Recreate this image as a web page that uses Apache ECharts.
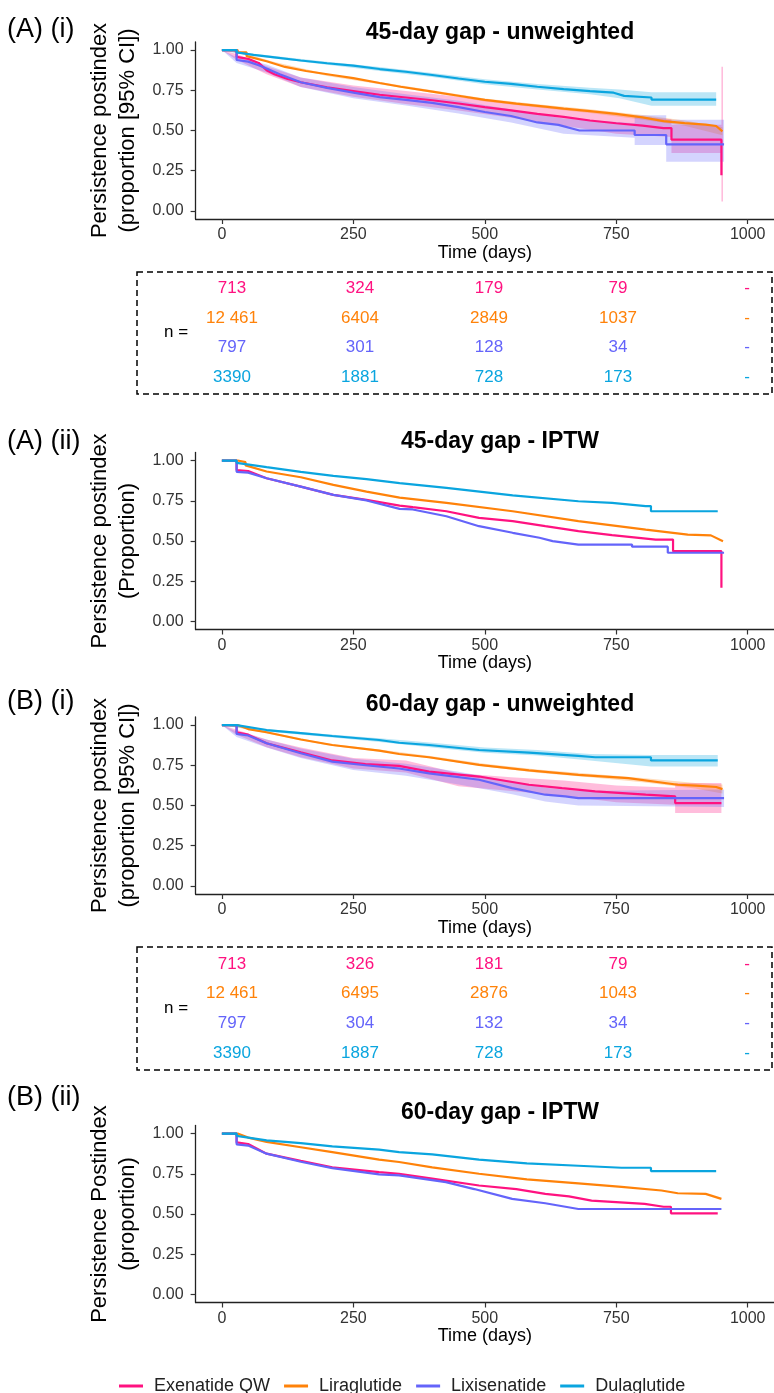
<!DOCTYPE html>
<html><head><meta charset="utf-8">
<script src="https://cdn.jsdelivr.net/npm/echarts@6/dist/echarts.min.js"></script>
<style>html,body{margin:0;padding:0;background:#fff}#c{width:774px;height:1393px}</style>
</head><body><div id="c"></div><script>
const SERIES_NAMES = ['Exenatide QW', 'Liraglutide', 'Lixisenatide', 'Dulaglutide'];
const COLORS = ['#FF1280', '#FF8209', '#6464FA', '#0AA5DF'];
const BAND_COLORS = ['rgba(255,18,128,0.28)', 'rgba(255,130,9,0.28)', 'rgba(100,100,250,0.28)', 'rgba(10,165,223,0.28)'];
const X_TICKS = [0, 250, 500, 750, 1000];
const Y_TICKS = [0, 0.25, 0.5, 0.75, 1];
const PANEL_TITLES = ['45-day gap - unweighted', '45-day gap - IPTW', '60-day gap - unweighted', '60-day gap - IPTW'];
const PANEL_LABELS = ['(A) (i)', '(A) (ii)', '(B) (i)', '(B) (ii)'];
const Y_TITLES = ['Persistence postindex\n(proportion [95% CI])', 'Persistence postindex\n(Proportion)', 'Persistence postindex\n(proportion [95% CI])', 'Persistence Postindex\n(proportion)'];
const X_TITLE = 'Time (days)';

// Panel 1: (A)(i) 45-day gap unweighted  [time, survival]
const P1_EX = [[0,1],[22,1],[22,0.992],[28,0.992],[28,0.958],[50,0.945],[70,0.92],[85,0.875],[100,0.85],[125,0.82],[150,0.80],[200,0.768],[250,0.745],[300,0.722],[350,0.705],[400,0.688],[450,0.668],[500,0.645],[550,0.625],[600,0.603],[650,0.585],[700,0.562],[750,0.545],[800,0.53],[840,0.515],[855,0.515],[855,0.443],[950,0.443],[950,0.222]];
const P1_LI = [[0,1],[30,1],[30,0.985],[47,0.985],[47,0.962],[85,0.93],[120,0.895],[160,0.87],[210,0.845],[250,0.825],[300,0.795],[340,0.772],[400,0.742],[450,0.716],[500,0.69],[560,0.667],[615,0.648],[650,0.636],[700,0.62],[750,0.603],[800,0.582],[840,0.558],[880,0.546],[920,0.536],[940,0.528],[952,0.495]];
const P1_LX = [[0,1],[28,1],[28,0.938],[50,0.928],[70,0.905],[85,0.885],[110,0.85],[150,0.80],[200,0.765],[250,0.735],[300,0.707],[350,0.69],[400,0.672],[450,0.645],[500,0.615],[550,0.59],[600,0.55],[640,0.535],[680,0.50],[785,0.50],[785,0.472],[845,0.472],[845,0.414],[955,0.414]];
const P1_DU = [[0,1],[28,1],[28,0.985],[60,0.97],[100,0.955],[150,0.935],[200,0.918],[250,0.903],[300,0.882],[350,0.865],[400,0.845],[450,0.823],[500,0.803],[550,0.79],[600,0.772],[650,0.757],[700,0.745],[745,0.735],[765,0.715],[817,0.705],[817,0.692],[940,0.692]];
// confidence bands [time, lower, upper]
const P1_EX_CI = [[0,1,1],[28,0.94,0.975],[85,0.85,0.9],[150,0.77,0.83],[250,0.71,0.78],[350,0.665,0.745],[450,0.625,0.71],[550,0.58,0.67],[650,0.53,0.64],[750,0.48,0.60],[855,0.46,0.57],[855,0.36,0.535],[950,0.36,0.535],[950,0.058,0.896],[953,0.058,0.896]];
const P1_LI_CI = [[0,1,1],[32,0.98,0.99],[100,0.914,0.926],[200,0.839,0.851],[300,0.788,0.802],[400,0.734,0.75],[500,0.681,0.699],[600,0.643,0.663],[700,0.608,0.632],[800,0.567,0.597],[880,0.53,0.562],[952,0.47,0.52]];
const P1_LX_CI = [[0,1,1],[28,0.92,0.955],[85,0.86,0.91],[150,0.77,0.83],[250,0.70,0.77],[350,0.655,0.725],[450,0.605,0.685],[550,0.55,0.63],[650,0.48,0.575],[785,0.455,0.545],[785,0.41,0.595],[845,0.41,0.595],[845,0.306,0.567],[955,0.306,0.567]];
const P1_DU_CI = [[0,1,1],[28,0.98,0.99],[100,0.947,0.963],[200,0.908,0.928],[300,0.87,0.894],[400,0.832,0.858],[500,0.788,0.818],[600,0.755,0.789],[700,0.725,0.765],[756,0.70,0.755],[817,0.654,0.737],[940,0.654,0.737]];

// Panel 2: (A)(ii) 45-day gap IPTW
const P2_EX = [[0,1],[28,1],[28,0.94],[50,0.935],[85,0.89],[150,0.838],[212,0.787],[275,0.756],[338,0.72],[363,0.71],[427,0.685],[489,0.644],[553,0.623],[615,0.592],[678,0.561],[742,0.536],[825,0.509],[858,0.509],[858,0.437],[950,0.437],[950,0.209]];
const P2_LI = [[0,1],[30,1],[30,0.99],[45,0.99],[45,0.97],[85,0.932],[150,0.896],[212,0.849],[275,0.807],[338,0.77],[427,0.737],[553,0.685],[678,0.623],[806,0.571],[886,0.54],[930,0.535],[953,0.499]];
const P2_LX = [[0,1],[28,1],[28,0.93],[50,0.925],[85,0.89],[150,0.838],[212,0.787],[275,0.752],[338,0.70],[363,0.696],[427,0.654],[489,0.592],[553,0.551],[604,0.52],[629,0.499],[678,0.478],[780,0.478],[780,0.465],[848,0.465],[848,0.427],[955,0.427]];
const P2_DU = [[0,1],[28,1],[28,0.985],[85,0.959],[150,0.93],[212,0.905],[275,0.884],[338,0.86],[427,0.83],[553,0.783],[678,0.747],[742,0.737],[806,0.717],[816,0.717],[816,0.685],[943,0.685]];

// Panel 3: (B)(i) 60-day gap unweighted
const P3_EX = [[0,1],[28,1],[28,0.955],[50,0.94],[85,0.887],[150,0.83],[210,0.78],[273,0.757],[337,0.746],[394,0.711],[489,0.68],[584,0.629],[647,0.608],[710,0.588],[806,0.567],[862,0.557],[862,0.515],[950,0.515]];
const P3_LI = [[0,1],[30,1],[30,0.99],[50,0.975],[85,0.955],[150,0.91],[210,0.876],[299,0.841],[337,0.82],[394,0.80],[489,0.753],[584,0.718],[678,0.69],[773,0.67],[867,0.629],[902,0.623],[940,0.615],[952,0.602]];
const P3_LX = [[0,1],[28,1],[28,0.945],[50,0.935],[85,0.887],[150,0.825],[210,0.773],[273,0.75],[337,0.73],[394,0.70],[489,0.66],[552,0.608],[615,0.567],[653,0.557],[678,0.546],[955,0.546]];
const P3_DU = [[0,1],[28,1],[28,0.99],[85,0.969],[150,0.95],[210,0.932],[299,0.907],[337,0.89],[394,0.876],[489,0.845],[584,0.829],[678,0.808],[710,0.80],[816,0.80],[816,0.78],[943,0.78]];
const P3_EX_CI = [[0,1,1],[28,0.94,0.97],[85,0.862,0.91],[150,0.80,0.86],[250,0.73,0.795],[350,0.705,0.78],[450,0.62,0.70],[550,0.59,0.675],[650,0.56,0.655],[750,0.52,0.625],[862,0.505,0.61],[862,0.454,0.64],[950,0.454,0.64]];
const P3_LI_CI = [[0,1,1],[30,0.985,0.995],[100,0.938,0.95],[200,0.874,0.886],[300,0.834,0.848],[400,0.79,0.806],[500,0.742,0.76],[600,0.703,0.723],[700,0.675,0.697],[800,0.645,0.671],[900,0.605,0.64],[952,0.575,0.63]];
const P3_LX_CI = [[0,1,1],[28,0.925,0.96],[85,0.86,0.91],[150,0.795,0.855],[250,0.72,0.79],[350,0.685,0.76],[450,0.63,0.71],[552,0.57,0.65],[615,0.525,0.61],[678,0.50,0.59],[955,0.49,0.60]];
const P3_DU_CI = [[0,1,1],[28,0.985,0.995],[100,0.955,0.97],[200,0.925,0.943],[300,0.895,0.918],[400,0.86,0.89],[500,0.828,0.86],[600,0.81,0.845],[700,0.78,0.82],[816,0.742,0.814],[943,0.742,0.814]];

// Panel 4: (B)(ii) 60-day gap IPTW
const P4_EX = [[0,1],[28,1],[28,0.945],[50,0.935],[85,0.875],[150,0.83],[210,0.79],[299,0.76],[337,0.75],[400,0.72],[489,0.677],[560,0.655],[615,0.625],[660,0.61],[703,0.583],[804,0.5625],[840,0.545],[854,0.545],[854,0.504],[943,0.504]];
const P4_LI = [[0,1],[30,1],[30,0.99],[50,0.975],[85,0.948],[150,0.915],[210,0.885],[299,0.8375],[337,0.823],[400,0.79],[489,0.75],[580,0.715],[678,0.69],[760,0.668],[836,0.646],[867,0.629],[920,0.625],[950,0.594]];
const P4_LX = [[0,1],[28,1],[28,0.933],[50,0.925],[85,0.875],[150,0.825],[210,0.785],[299,0.746],[337,0.74],[426,0.698],[480,0.655],[552,0.594],[615,0.567],[678,0.531],[950,0.531]];
const P4_DU = [[0,1],[28,1],[28,0.985],[85,0.958],[150,0.94],[210,0.92],[299,0.90],[337,0.885],[400,0.87],[489,0.8375],[580,0.815],[678,0.80],[760,0.7875],[816,0.7875],[816,0.767],[940,0.767]];

// Number-at-risk tables
const TABLE_A = [['713','324','179','79','-'],['12 461','6404','2849','1037','-'],['797','301','128','34','-'],['3390','1881','728','173','-']];
const TABLE_B = [['713','326','181','79','-'],['12 461','6495','2876','1043','-'],['797','304','132','34','-'],['3390','1887','728','173','-']];

const PANEL_LINES = [[P1_EX,P1_LI,P1_LX,P1_DU],[P2_EX,P2_LI,P2_LX,P2_DU],[P3_EX,P3_LI,P3_LX,P3_DU],[P4_EX,P4_LI,P4_LX,P4_DU]];
const PANEL_BANDS = [[P1_EX_CI,P1_LI_CI,P1_LX_CI,P1_DU_CI],null,[P3_EX_CI,P3_LI_CI,P3_LX_CI,P3_DU_CI],null];

const FONT = 'Liberation Sans, Arial, Helvetica, sans-serif';
const GRID_TOPS = [42, 452.5, 717, 1125.5];
const GRID_H = 177;
const GRID_LEFT = 195.6, GRID_W = 580.8;
const TITLE_Y = [33, 442, 705, 1113];
const LABEL_Y = [30, 442, 702, 1098];

const grids = [], xAxes = [], yAxes = [], series = [], graphics = [];
for (let k = 0; k < 4; k++) {
  grids.push({left: GRID_LEFT, top: GRID_TOPS[k], width: GRID_W, height: GRID_H});
  xAxes.push({
    type: 'value', gridIndex: k, min: -50, max: 1050,
    axisLine: {onZero: false, lineStyle: {color: '#222', width: 1.3}},
    axisTick: {length: 5, customValues: X_TICKS, lineStyle: {color: '#333', width: 1.2}},
    axisLabel: {customValues: X_TICKS, margin: 8, fontSize: 16, color: '#333', fontFamily: FONT, formatter: v => String(v)},
    splitLine: {show: false},
    name: X_TITLE, nameLocation: 'middle', nameGap: 22,
    nameTextStyle: {fontSize: 18, color: '#000', fontFamily: FONT}
  });
  yAxes.push({
    type: 'value', gridIndex: k, min: -0.05, max: 1.05,
    axisLine: {show: true, onZero: false, lineStyle: {color: '#222', width: 1.3}},
    axisTick: {show: true, length: 5, customValues: Y_TICKS, lineStyle: {color: '#333', width: 1.2}},
    axisLabel: {customValues: Y_TICKS, margin: 12, fontSize: 16, color: '#333', fontFamily: FONT, formatter: v => v.toFixed(2)},
    splitLine: {show: false},
    name: Y_TITLES[k], nameLocation: 'middle', nameRotate: 90, nameGap: 51,
    nameTextStyle: {fontSize: 22, lineHeight: 28, color: '#000', fontFamily: FONT, align: 'center'}
  });
  const bands = PANEL_BANDS[k];
  if (bands) {
    bands.forEach((b, i) => {
      series.push({
        type: 'custom', name: 'ci-' + i, xAxisIndex: k, yAxisIndex: k, silent: true, z: 2,
        data: b, encode: {x: 0, y: [1, 2]},
        renderItem: (params, api) => {
          if (params.dataIndex !== 0) return null;
          const n = params.dataInsideLength;
          const pts = [];
          for (let j = 0; j < n; j++) pts.push(api.coord([api.value(0, j), api.value(2, j)]));
          for (let j = n - 1; j >= 0; j--) pts.push(api.coord([api.value(0, j), api.value(1, j)]));
          return {type: 'polygon', shape: {points: pts}, style: {fill: BAND_COLORS[i]}};
        }
      });
    });
  }
  PANEL_LINES[k].forEach((d, i) => {
    series.push({
      type: 'line', name: SERIES_NAMES[i], xAxisIndex: k, yAxisIndex: k, data: d,
      showSymbol: false, symbol: 'none', z: 3,
      lineStyle: {color: COLORS[i], width: 2.2}, itemStyle: {color: COLORS[i]}
    });
  });
  graphics.push({type: 'text', x: 500, y: TITLE_Y[k], style: {text: PANEL_TITLES[k], align: 'center', verticalAlign: 'middle', font: 'bold 23px ' + FONT, fill: '#000'}});
  graphics.push({type: 'text', x: 7, y: LABEL_Y[k], style: {text: PANEL_LABELS[k], align: 'left', verticalAlign: 'middle', font: '27px ' + FONT, fill: '#000'}});
}

const COL_X = [232, 360, 489, 618, 747];
function addTable(tab, top, bottom, rowY) {
  graphics.push({type: 'rect', shape: {x: 137, y: top, width: 635, height: bottom - top},
    style: {fill: 'none', stroke: '#000', lineWidth: 1.5, lineDash: [6, 4]}});
  graphics.push({type: 'text', x: 164, y: (rowY[1] + rowY[2]) / 2, style: {text: 'n =', align: 'left', verticalAlign: 'middle', font: '17px ' + FONT, fill: '#000'}});
  tab.forEach((row, r) => row.forEach((txt, c) => {
    graphics.push({type: 'text', x: COL_X[c], y: rowY[r], style: {text: txt, align: 'center', verticalAlign: 'middle', font: '17px ' + FONT, fill: COLORS[r]}});
  }));
}
addTable(TABLE_A, 272, 394, [288, 318, 347, 377]);
addTable(TABLE_B, 947, 1070, [964, 993, 1023, 1053]);

const chart = echarts.init(document.getElementById('c'), null, {renderer: 'canvas'});
chart.setOption({
  animation: false,
  backgroundColor: '#fff',
  textStyle: {fontFamily: FONT},
  grid: grids, xAxis: xAxes, yAxis: yAxes, series: series,
  legend: {
    data: SERIES_NAMES, left: 114, top: 1372, icon: 'rect', itemWidth: 24, itemHeight: 3, itemGap: 14,
    textStyle: {fontSize: 18, color: '#222', fontFamily: FONT, padding: [0, 0, 0, 6]}
  },
  graphic: graphics
});
</script></body></html>
